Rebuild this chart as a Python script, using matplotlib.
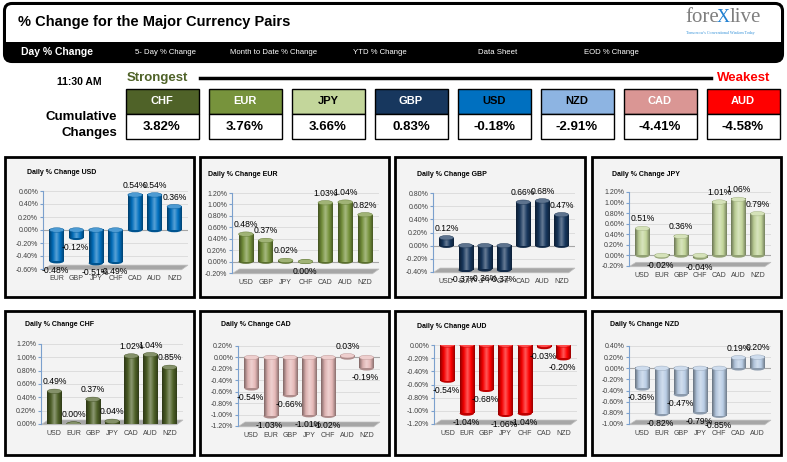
import numpy as np
import matplotlib
matplotlib.use("Agg")
import matplotlib.pyplot as plt
from matplotlib.patches import Rectangle, Ellipse, FancyBboxPatch, Polygon
from matplotlib.colors import LinearSegmentedColormap, to_rgb

plt.rcParams['font.family'] = ['Liberation Sans', 'DejaVu Sans']
NARROW = ['Liberation Sans Narrow', 'Liberation Sans', 'DejaVu Sans']

# ---- data ----
tabs = ["Day % Change", "5- Day % Change", "Month to Date % Change",
        "YTD % Change", "Data Sheet", "EOD % Change"]
ranked = ["CHF", "EUR", "JPY", "GBP", "USD", "NZD", "CAD", "AUD"]
cumulative = [3.82, 3.76, 3.66, 0.83, -0.18, -2.91, -4.41, -4.58]

usd_pairs = ["EUR", "GBP", "JPY", "CHF", "CAD", "AUD", "NZD"]
usd_chg = [-0.48, -0.12, -0.51, -0.49, 0.54, 0.54, 0.36]
eur_pairs = ["USD", "GBP", "JPY", "CHF", "CAD", "AUD", "NZD"]
eur_chg = [0.48, 0.37, 0.02, 0.00, 1.03, 1.04, 0.82]
gbp_pairs = ["USD", "EUR", "JPY", "CHF", "CAD", "AUD", "NZD"]
gbp_chg = [0.12, -0.37, -0.36, -0.37, 0.66, 0.68, 0.47]
jpy_pairs = ["USD", "EUR", "GBP", "CHF", "CAD", "AUD", "NZD"]
jpy_chg = [0.51, -0.02, 0.36, -0.04, 1.01, 1.06, 0.79]
chf_pairs = ["USD", "EUR", "GBP", "JPY", "CAD", "AUD", "NZD"]
chf_chg = [0.49, 0.00, 0.37, 0.04, 1.02, 1.04, 0.85]
cad_pairs = ["USD", "EUR", "GBP", "JPY", "CHF", "AUD", "NZD"]
cad_chg = [-0.54, -1.03, -0.66, -1.01, -1.02, 0.03, -0.19]
aud_pairs = ["USD", "EUR", "GBP", "JPY", "CHF", "CAD", "NZD"]
aud_chg = [-0.54, -1.04, -0.68, -1.06, -1.04, -0.03, -0.20]
nzd_pairs = ["USD", "EUR", "GBP", "JPY", "CHF", "CAD", "AUD"]
nzd_chg = [-0.36, -0.82, -0.47, -0.79, -0.85, 0.19, 0.20]

usd_ticks = [-0.6, -0.4, -0.2, 0.0, 0.2, 0.4, 0.6]
eur_ticks = [-0.2, 0.0, 0.2, 0.4, 0.6, 0.8, 1.0, 1.2]
gbp_ticks = [-0.4, -0.2, 0.0, 0.2, 0.4, 0.6, 0.8]
jpy_ticks = [-0.2, 0.0, 0.2, 0.4, 0.6, 0.8, 1.0, 1.2]
chf_ticks = [0.0, 0.2, 0.4, 0.6, 0.8, 1.0, 1.2]
cad_ticks = [-1.2, -1.0, -0.8, -0.6, -0.4, -0.2, 0.0, 0.2]
aud_ticks = [-1.2, -1.0, -0.8, -0.6, -0.4, -0.2, 0.0]
nzd_ticks = [-1.0, -0.8, -0.6, -0.4, -0.2, 0.0, 0.2, 0.4]

box_colors = ["#4f6228", "#77933c", "#c3d69b", "#17375e",
              "#0070c0", "#8db4e2", "#da9694", "#ff0000"]
box_text = ["white", "white", "black", "white", "black", "black", "white", "white"]

W, H = 787, 462
fig = plt.figure(figsize=(W / 100, H / 100), dpi=100)
bg = fig.add_axes([0, 0, 1, 1])
bg.set_xlim(0, W)
bg.set_ylim(H, 0)
bg.axis('off')


def shade(c, f):
    r = np.array(to_rgb(c))
    if f > 0:
        return tuple(r + (1 - r) * f)
    return tuple(r * (1 + f))


# ---- header ----
bg.add_patch(FancyBboxPatch((4, 3), 779, 59, boxstyle="round,pad=0,rounding_size=8",
                            facecolor='black', edgecolor='black', lw=1.5))
bg.add_patch(FancyBboxPatch((6, 5), 775, 45, boxstyle="round,pad=0,rounding_size=6",
                            facecolor='white', edgecolor='none'))
bg.add_patch(Rectangle((5, 42), 777, 10, facecolor='black', edgecolor='none'))
bg.text(18, 22, "% Change for the Major Currency Pairs", family=NARROW, weight='bold',
        fontsize=10.5, va='center', ha='left', color='black')
bg.text(685, 18, "fore", family='Liberation Serif', fontsize=15, color='#7f7f7f', va='center')
bg.text(717, 17, "X", family='Liberation Serif', fontsize=13, color='#1f7fd0', va='center')
bg.text(730, 18, "live", family='Liberation Serif', fontsize=15, color='#7f7f7f', va='center')
bg.text(686, 33, "Tomorrow's Conventional Wisdom Today", family='Liberation Serif',
        fontsize=3.0, color='#2f8fd8', va='center')

tab_x = [21, 135, 230, 353, 478, 584]
for i, (tx, t) in enumerate(zip(tab_x, tabs)):
    if i == 0:
        bg.text(tx, 52, t, family=NARROW, weight='bold', fontsize=7.5, color='white', va='center')
    else:
        bg.text(tx, 52, t, family=NARROW, fontsize=5.6, color='white', va='center')

# ---- ranking strip ----
bg.text(57, 82, "11:30 AM", family=NARROW, weight='bold', fontsize=7.5, va='center')
bg.text(127, 78, "Strongest", family=NARROW, weight='bold', fontsize=9.5, color='#4f6228', va='center')
bg.plot([200, 711], [78, 78], color='black', lw=2.5)
bg.text(770, 78, "Weakest", family=NARROW, weight='bold', fontsize=9.5, color='#ff0000',
        va='center', ha='right')
bg.text(117, 117, "Cumulative", family=NARROW, weight='bold', fontsize=9.5, va='center', ha='right')
bg.text(117, 133, "Changes", family=NARROW, weight='bold', fontsize=9.5, va='center', ha='right')

for i, (cur, val) in enumerate(zip(ranked, cumulative)):
    bx = 125.5 + i * 83.0
    bg.add_patch(Rectangle((bx, 89), 73, 25, facecolor=box_colors[i], edgecolor='black', lw=1))
    bg.add_patch(Rectangle((bx, 114), 73, 25, facecolor='white', edgecolor='black', lw=1))
    bg.text(bx + 36.5, 101.5, cur, family=NARROW, weight='bold', fontsize=8,
            color=box_text[i], ha='center', va='center')
    bg.text(bx + 36.5, 127, f"{val:.2f}%", family=NARROW, weight='bold', fontsize=9.5,
            color='black', ha='center', va='center')


# ---- daily panels ----
def draw_panel(box, plot, title_xy, title, pairs, values, ticks, color):
    x0, y0, x1, y1 = box
    bg.add_patch(Rectangle((x0, y0), x1 - x0, y1 - y0, facecolor='#f3f3f3',
                           edgecolor='black', lw=2))
    bg.text(title_xy[0], title_xy[1], title, fontsize=5, weight='bold', va='center', ha='left')

    al, ar, at, ab = plot
    ax = fig.add_axes([al / W, 1 - ab / H, (ar - al) / W, (ab - at) / H])
    ax.patch.set_alpha(0)
    ymin, ymax = ticks[0], ticks[-1]
    n = len(values)
    xs = np.arange(n)
    bw = 0.74
    pxu = (ab - at) / (ymax - ymin)
    eh = 4.5 / pxu

    for t in ticks:
        ax.axhline(t, color='#d9d9d9', lw=0.6, zorder=0)
    if ymin < 0 < ymax:
        ax.axhline(0, color='#a6a6a6', lw=0.8, zorder=1)
    ax.add_patch(Polygon([(0, -0.01), (0.955, -0.01), (1.0, 0.05), (0.05, 0.05)],
                         closed=True, transform=ax.transAxes, facecolor='#a6a6a6',
                         edgecolor='#bfbfbf', lw=0.5, zorder=1, clip_on=False))

    cmap = LinearSegmentedColormap.from_list(
        'cyl', [shade(color, -0.45), shade(color, -0.05), shade(color, 0.35),
                color, shade(color, -0.4)])
    grad = np.linspace(0, 1, 64).reshape(1, -1)
    for x, v in zip(xs, values):
        lo, hi = min(0, v), max(0, v)
        ax.add_patch(Ellipse((x, lo), bw, eh, facecolor=shade(color, -0.25),
                             edgecolor='none', zorder=2))
        if hi > lo:
            ax.imshow(grad, cmap=cmap, extent=[x - bw / 2, x + bw / 2, lo, hi],
                      aspect='auto', zorder=3, interpolation='bilinear')
        ax.add_patch(Ellipse((x, hi), bw, eh, facecolor=shade(color, 0.3),
                             edgecolor=shade(color, -0.2), lw=0.3, zorder=4))
        if v > 0 or (v == 0 and ymin >= 0):
            ax.annotate(f"{v:.2f}%", (x, v), xytext=(0, 5), textcoords='offset pixels',
                        ha='center', va='bottom', fontsize=6.2, zorder=6)
        else:
            ax.annotate(f"{v:.2f}%", (x, v), xytext=(-1, -5), textcoords='offset pixels',
                        ha='center', va='top', fontsize=6.2, zorder=6)

    ax.set_xlim(-0.7, n - 1 + 0.7)
    ax.set_ylim(ymin, ymax)
    ax.set_yticks(ticks)
    ax.set_yticklabels([f"{t:.2f}%" for t in ticks])
    ax.set_xticks(xs)
    ax.set_xticklabels(pairs)
    for s in ['top', 'right', 'bottom']:
        ax.spines[s].set_visible(False)
    ax.spines['left'].set_color('#7ba0cd')
    ax.spines['left'].set_linewidth(0.8)
    ax.tick_params(axis='y', length=2, color='#7ba0cd', labelsize=5, labelcolor='#404040', pad=1.5)
    ax.tick_params(axis='x', length=0, labelsize=5, labelcolor='#404040', pad=4.5)


draw_panel((5, 157, 194, 297), (43, 188, 191, 269), (27, 173), "Daily % Change USD",
           usd_pairs, usd_chg, usd_ticks, "#0070c0")
draw_panel((200, 157, 389, 297), (232, 379, 193, 273), (208, 174), "Daily % Change EUR",
           eur_pairs, eur_chg, eur_ticks, "#77933c")
draw_panel((395, 157, 585, 297), (433, 575, 193, 272), (417, 174), "Daily % Change GBP",
           gbp_pairs, gbp_chg, gbp_ticks, "#17375e")
draw_panel((592, 157, 781, 297), (629, 771, 192, 266), (612, 174), "Daily % Change JPY",
           jpy_pairs, jpy_chg, jpy_ticks, "#c3d69b")
draw_panel((5, 311, 194, 455), (41, 183, 344, 424), (25, 324), "Daily % Change CHF",
           chf_pairs, chf_chg, chf_ticks, "#4f6228")
draw_panel((200, 311, 389, 455), (238, 380, 346, 426), (221, 324), "Daily % Change CAD",
           cad_pairs, cad_chg, cad_ticks, "#e6b9b8")
draw_panel((395, 311, 585, 455), (434, 577, 345, 424), (417, 326), "Daily % Change AUD",
           aud_pairs, aud_chg, aud_ticks, "#ff0000")
draw_panel((592, 311, 781, 455), (629, 771, 346, 424), (610, 324), "Daily % Change NZD",
           nzd_pairs, nzd_chg, nzd_ticks, "#b9cde5")

fig.savefig("out.png", dpi=100)
